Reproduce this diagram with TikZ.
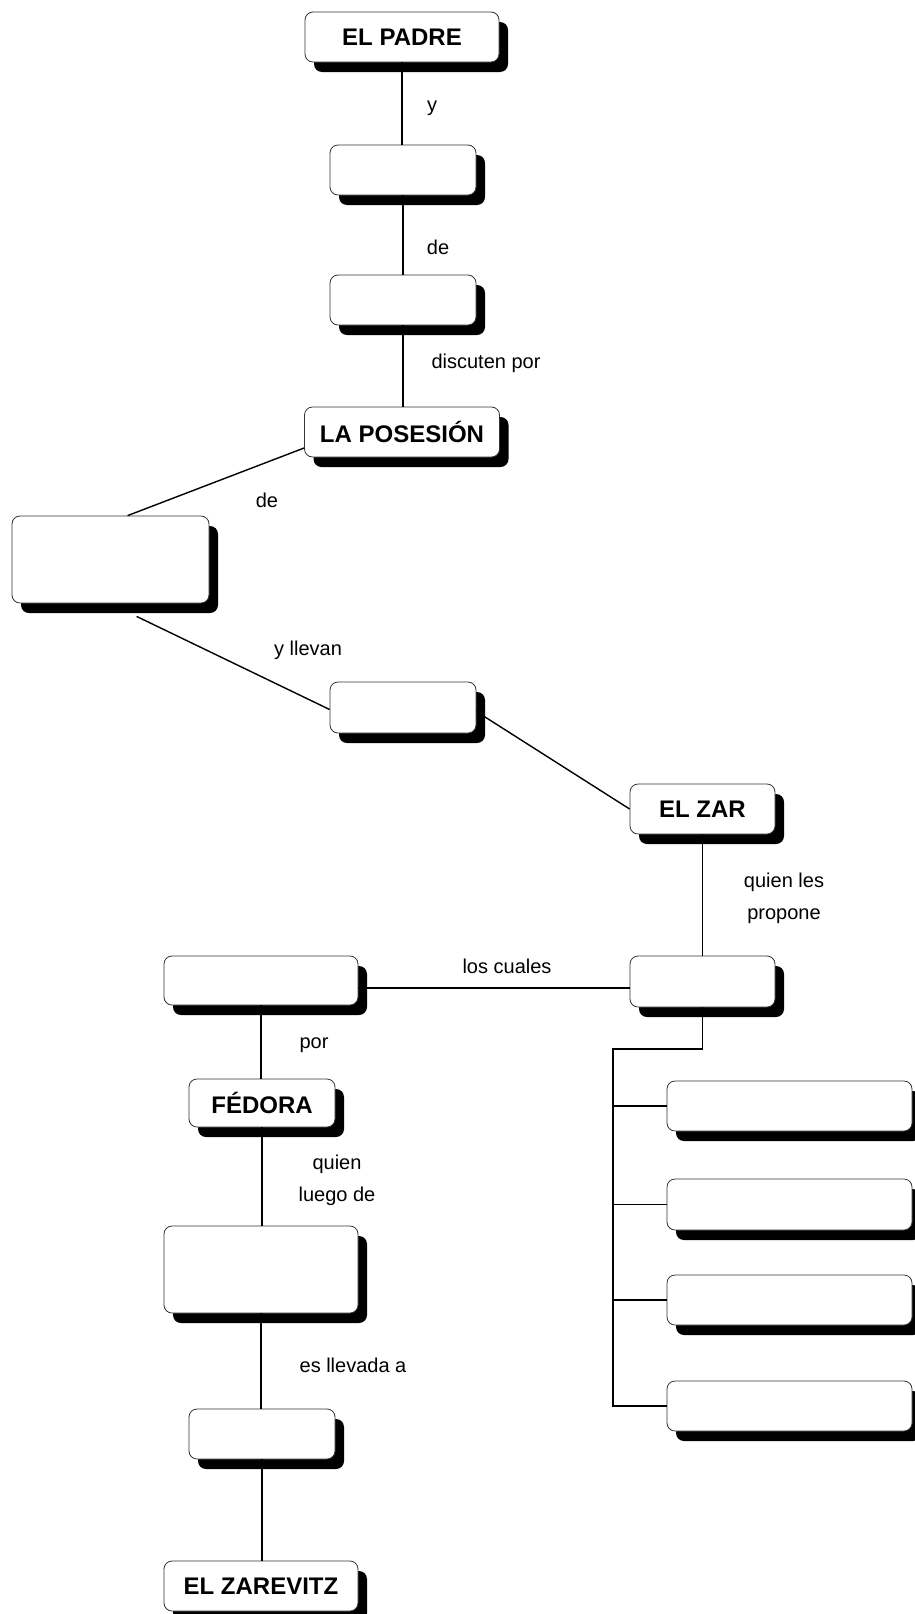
\documentclass[tikz,border=0pt]{standalone}
\usepackage{fontspec}
\setmainfont{Liberation Sans}
\usetikzlibrary{shadows,calc}
\begin{document}
\begin{tikzpicture}[x=1pt,y=-1pt,
  box/.style={draw=black!80, line width=0.8pt, fill=white, rounded corners=8pt, inner sep=0pt,
    drop shadow={fill=black, opacity=1, shadow xshift=9pt, shadow yshift=-10pt}},
  title/.style={font=\fontsize{24}{28}\selectfont\bfseries},
  lbl/.style={font=\fontsize{20}{32}\selectfont, align=center, inner sep=0pt},
  conn/.style={line width=1.4pt}]
\useasboundingbox (0,0) rectangle (914,1614);
% nodes
\node[box, title, minimum width=194pt, minimum height=50pt] (padre) at (402,37) {EL PADRE};
\node[box, minimum width=146pt, minimum height=50pt] (b2) at (403,170) {};
\node[box, minimum width=146pt, minimum height=50pt] (b3) at (403,300) {};
\node[box, title, minimum width=195pt, minimum height=50pt] (pos) at (402,432) {LA POSESIÓN};
\node[box, minimum width=197pt, minimum height=87pt] (big) at (110.5,559.5) {};
\node[box, minimum width=146pt, minimum height=51pt] (lle) at (403,707.5) {};
\node[box, title, minimum width=145pt, minimum height=50pt] (zar) at (702.5,809) {EL ZAR};
\node[box, minimum width=145pt, minimum height=51pt] (prop) at (702.5,981.5) {};
\node[box, minimum width=194pt, minimum height=49pt] (cual) at (261,980.5) {};
\node[box, title, minimum width=146pt, minimum height=48pt] (fed) at (262,1103) {FÉDORA};
\node[box, minimum width=194pt, minimum height=87pt] (lue) at (261,1269.5) {};
\node[box, minimum width=146pt, minimum height=50pt] (lle2) at (262,1434) {};
\node[box, title, minimum width=194pt, minimum height=50pt] (zarev) at (261,1586) {EL ZAREVITZ};
\node[box, minimum width=245pt, minimum height=50pt] (r1) at (789.5,1106) {};
\node[box, minimum width=245pt, minimum height=51pt] (r2) at (789.5,1204.5) {};
\node[box, minimum width=245pt, minimum height=50pt] (r3) at (789.5,1300) {};
\node[box, minimum width=245pt, minimum height=50pt] (r4) at (789.5,1406) {};
% connectors
\draw[conn] (padre.south) -- (padre.south |- b2.north);
\draw[conn] (b2.south) -- (b2.south |- b3.north);
\draw[conn] (b3.south) -- (b3.south |- pos.north);
\draw[conn] ($(pos.west)+(0,16)$) -- ($(big.north west)+(116,0)$);
\draw[conn] ($(big.south west)+(125,13)$) -- ($(lle.west)+(0,2)$);
\draw[conn] ($(lle.east)+(0,4)$) -- (zar.west);
\draw[conn] (zar.south) -- (zar.south |- prop.north);
\coordinate (c1) at (0,988);
\draw[conn] (prop.west |- c1) -- (cual.east |- c1);
\draw[conn] (cual.south) -- (cual.south |- fed.north);
\draw[conn] (fed.south) -- (fed.south |- lue.north);
\draw[conn] (lue.south) -- (lue.south |- lle2.north);
\draw[conn] (lle2.south) -- (lle2.south |- zarev.north);
\coordinate (t0) at (613,1049);
\draw[conn] (prop.south) |- (t0) -- (t0 |- r4.west) -- (r4.west);
\draw[conn] (t0 |- r1.west) -- (r1.west);
\draw[conn] (t0 |- r2.west) -- (r2.west);
\draw[conn] (t0 |- r3.west) -- (r3.west);
% labels
\node[lbl] (l1) at (432,108) {y};
\node[lbl] (l2) at (438,247) {de};
\node[lbl] (l3) at (486,363) {discuten por};
\node[lbl] (l4) at (267,500) {de};
\node[lbl] (l5) at (308,650) {y llevan};
\node[lbl] (l6) at (784,898) {quien les\\propone};
\node[lbl] (l7) at (507,966) {los cuales};
\node[lbl] (l8) at (314,1045) {por};
\node[lbl] (l9) at (337,1180) {quien\\luego de};
\node[lbl] (l10) at (353,1365) {es llevada a};
\end{tikzpicture}
\end{document}
